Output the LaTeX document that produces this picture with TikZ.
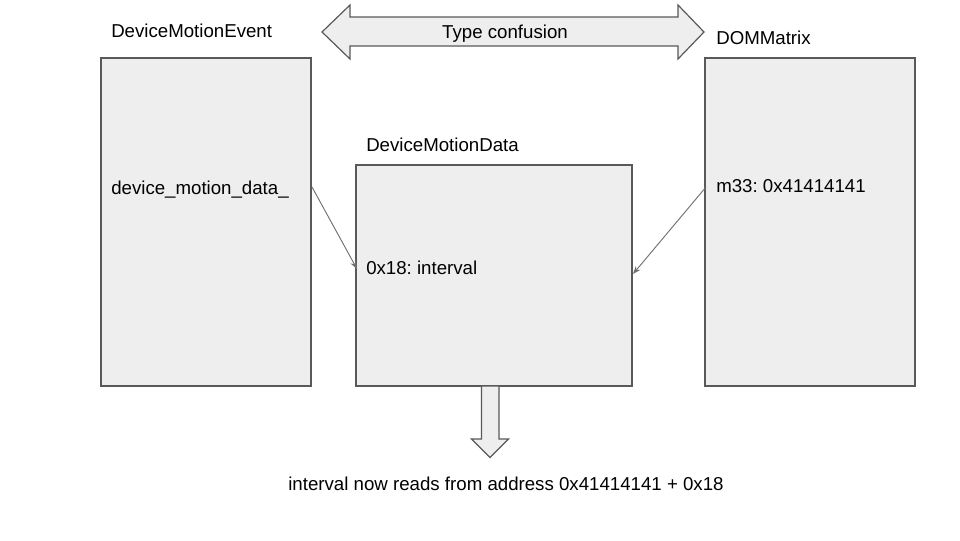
\documentclass[tikz,border=0pt]{standalone}
\usepackage{fontspec}
\setmainfont{Liberation Sans}
\usetikzlibrary{arrows.meta}
\definecolor{boxfill}{HTML}{EEEEEE}
\definecolor{boxline}{HTML}{595959}
\definecolor{conn}{HTML}{707070}
\frenchspacing
\begin{document}
\begin{tikzpicture}[x=0.75pt,y=-0.75pt,
  objbox/.style={draw=boxline,fill=boxfill,line width=0.9pt},
  lbl/.style={inner sep=0pt,anchor=base west,font=\fontsize{14}{16}\selectfont},
  ptr/.style={draw=conn,line width=0.7pt,-{Stealth[length=6pt,width=4.5pt]}},
  fatarrow/.style={draw=boxline,fill=boxfill,line width=0.9pt,line join=miter}]
\useasboundingbox (0,0) rectangle (960,540);
% boxes
\draw[objbox] (101,58) rectangle (311,386);
\draw[objbox] (356,165) rectangle (632,386);
\draw[objbox] (705,58) rectangle (915,386);
% labels
\node[lbl] (tEvent) at (111,37) {DeviceMotionEvent};
\node[lbl] (tDom) at (716,44.5) {DOMMatrix};
\node[lbl] (tData) at (366,151.5) {DeviceMotionData};
\node[lbl] (fDev) at (111,194) {device\_motion\_data\_};
\node[lbl] (fM33) at (716,192.5) {m33: 0x41414141};
\node[lbl] (fInt) at (366,274.5) {0x18: interval};
% pointers
\coordinate (p1s) at (312,187);
\coordinate (p1e) at (357,269);
\coordinate (p2s) at (706,187);
\coordinate (p2e) at (633,274);
\draw[ptr] (p1s) -- (p1e);
\draw[ptr] (p2s) -- (p2e);
% double arrow
\draw[fatarrow] (322,32) -- (350,5) -- (350,17) -- (678,17) -- (678,5) -- (704,32)
  -- (678,59) -- (678,46) -- (350,46) -- (350,59) -- cycle;
\node[inner sep=0pt,anchor=base,font=\fontsize{14}{16}\selectfont] (tConf) at (505,38.5) {Type confusion};
% down arrow
\draw[fatarrow] (481.5,386) -- (499,386) -- (499,439) -- (508.5,439) -- (490,457.5)
  -- (471.5,439) -- (481.5,439) -- cycle;
\node[inner sep=0pt,anchor=base,font=\fontsize{14}{16}\selectfont] (tRes) at (506,490) {interval now reads from address 0x41414141 + 0x18};
\end{tikzpicture}
\end{document}
